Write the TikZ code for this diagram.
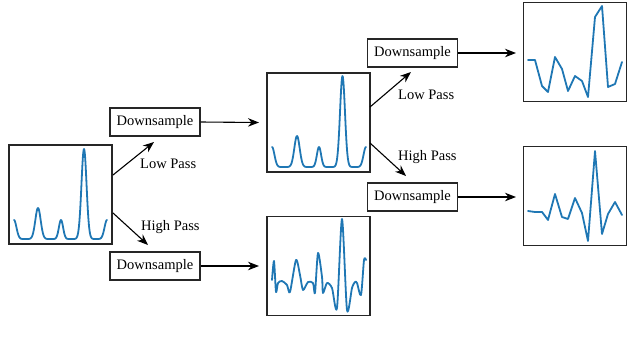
\documentclass[tikz,border=0pt]{standalone}
\usepackage{fontspec}
\setmainfont{Liberation Serif}
\usetikzlibrary{arrows.meta}
\definecolor{sig}{HTML}{1F77B4}
\begin{document}
\begin{tikzpicture}[x=1pt,y=-1pt,
  frame/.style={draw=black!85,line width=1.2pt,inner sep=0pt,minimum width=103pt,minimum height=99pt},
  dsbox/.style={draw=black!85,line width=1.1pt,minimum width=90pt,minimum height=28pt,inner sep=0pt,font=\fontsize{14.5}{16}\selectfont},
  lbl/.style={font=\fontsize{14.5}{16}\selectfont,inner sep=0pt,anchor=base west},
  arr/.style={-{Stealth[length=11pt,width=8.5pt,inset=3.5pt]},line width=1.1pt,black},
  sigline/.style={sig,line width=1.8pt,line join=round,line cap=round}]
\useasboundingbox (0,0) rectangle (640,341);

% plot frames
\node[frame] (p1) at (60.5,194.5) {};
\node[frame] (p2) at (318.5,122.5) {};
\node[frame] (p3) at (318.5,266) {};
\node[frame] (p4) at (575,52) {};
\node[frame] (p5) at (575,196) {};

% downsample boxes
\node[dsbox] (d1) at (155,122) {Downsample};
\node[dsbox] (d2) at (155,266) {Downsample};
\node[dsbox] (d3) at (412.5,53) {Downsample};
\node[dsbox] (d4) at (412.5,197) {Downsample};

% coordinates for arrow ends
\coordinate (a1s) at (113,175);
\coordinate (a1e) at (154,142);
\coordinate (b1s) at (113,213);
\coordinate (b1e) at (148,245);
\coordinate (a2s) at (370,107);
\coordinate (a2e) at (411,72);
\coordinate (b2s) at (370,143);
\coordinate (b2e) at (406,176);
\coordinate (t2) at (259,122.5);
\coordinate (t3) at (259,266);
\coordinate (t4) at (516,53);
\coordinate (t5) at (516,197);

% connectors
\draw[arr] (a1s) -- (a1e);
\draw[arr] (b1s) -- (b1e);
\draw[arr] (a2s) -- (a2e);
\draw[arr] (b2s) -- (b2e);
\draw[arr] (d1.east) -- (t2);
\draw[arr] (d2.east) -- (t3);
\draw[arr] (d3.east) -- (t4);
\draw[arr] (d4.east) -- (t5);

% labels
\node[lbl] (l1) at (140,168) {Low Pass};
\node[lbl] (h1) at (141,230) {High Pass};
\node[lbl] (l2) at (398,99) {Low Pass};
\node[lbl] (h2) at (398,160) {High Pass};

% signals
\draw[sigline] plot[domain=14:107,samples=220]
  ({\x},{239 - 19*exp(-((\x-14)/3.5)^2) - 31*exp(-((\x-38)/3.8)^2) - 19*exp(-((\x-61)/3)^2) - 90*exp(-((\x-84)/3.6)^2) - 19*exp(-((\x-107)/3.5)^2)});
\draw[sigline] plot[domain=272:366,samples=220]
  ({\x},{167 - 20*exp(-((\x-272)/3.5)^2) - 31*exp(-((\x-297)/3.8)^2) - 20*exp(-((\x-319)/3)^2) - 91*exp(-((\x-342.5)/3.5)^2) - 20*exp(-((\x-366)/3.5)^2)});
\draw[sigline] plot[smooth,tension=0.45] coordinates {
  (272,280) (274,261) (276,292) (278,283) (282,281) (287,285) (290,292)
  (296,260) (300,275) (303,290) (308,282) (313,283) (315,293) (318,253)
  (322,277) (323,293) (327,283) (332,288) (337,308) (342,219) (347,310)
  (352,288) (355,282) (357,283) (361,295) (364,260) (366,260)};
\draw[sigline] (528,60) -- (535,60) -- (542,86) -- (548,92) -- (555,57) -- (562,69)
  -- (568,91) -- (575,76) -- (582,81) -- (588,97) -- (595,17) -- (602,6)
  -- (608,87) -- (615,84) -- (622,62);
\draw[sigline] (528,211) -- (535,212) -- (542,212) -- (548,220) -- (555,194) -- (562,217)
  -- (568,219) -- (575,198) -- (582,213) -- (588,241) -- (595,151) -- (602,234)
  -- (608,214) -- (615,202) -- (622,215);
\end{tikzpicture}
\end{document}
